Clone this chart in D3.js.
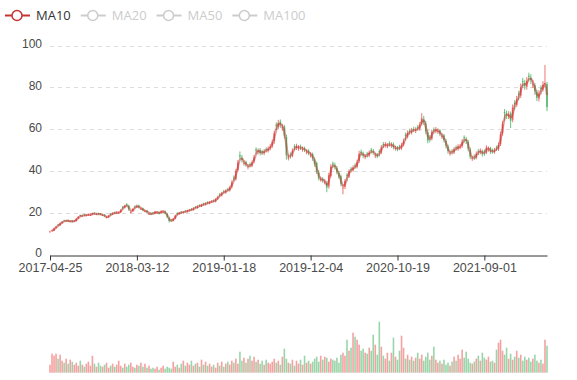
<!DOCTYPE html>
<html><head><meta charset="utf-8">
<script src="https://cdn.jsdelivr.net/npm/d3@7"></script>
<style>html,body{margin:0;padding:0;background:#fff}svg{display:block}</style>
</head><body><svg id="c" width="577" height="380"></svg>
<script>
// Weekly bars (5 trading days each)
const opens=[10.8,11.2,11.4,12.8,14.3,14.0,15.1,16.3,15.9,16.4,15.7,16.2,15.9,16.0,17.3,18.8,18.3,19.1,18.6,19.0,18.8,19.3,19.9,19.1,19.7,19.3,18.7,19.0,17.6,18.0,19.5,19.2,20.1,19.8,19.8,20.3,22.8,22.5,23.9,23.3,20.1,20.8,23.0,22.6,23.4,21.7,22.0,20.6,20.9,19.3,19.7,20.0,19.6,19.9,20.3,19.9,20.3,20.6,19.5,17.6,16.6,16.1,17.2,19.8,19.4,20.4,19.9,20.9,20.5,21.0,21.8,21.4,22.8,22.3,23.6,23.1,24.3,23.9,25.0,24.5,25.2,25.9,25.4,26.7,28.8,28.3,30.2,29.7,31.3,30.7,32.4,36.8,36.0,40.5,47.5,46.2,43.4,44.1,41.6,43.3,42.5,44.6,50.3,49.1,50.1,49.4,48.5,50.5,49.7,51.0,52.0,54.3,62.2,61.0,63.6,60.5,61.2,56.2,46.0,47.9,47.3,51.8,51.0,50.6,51.7,50.2,50.8,48.9,49.6,47.4,48.0,45.5,43.8,39.2,35.7,36.3,34.5,34.2,32.6,37.6,43.6,42.6,41.3,38.9,37.5,31.6,32.4,38.0,37.3,41.0,40.3,42.7,42.0,44.8,49.2,48.1,46.6,48.3,47.5,50.1,49.3,47.1,47.8,49.4,48.8,52.9,52.1,51.8,53.3,52.1,52.7,50.6,51.2,51.6,50.9,52.6,57.3,56.4,59.2,58.4,60.1,59.2,60.9,60.1,62.6,64.6,62.7,58.4,56.3,55.4,59.8,59.0,58.7,59.3,56.3,57.0,54.3,51.6,48.2,49.6,48.9,51.3,50.5,51.3,52.0,56.1,55.1,53.8,50.1,45.7,47.0,46.3,49.6,48.9,49.2,49.4,48.8,50.1,50.8,49.8,49.1,51.2,50.5,52.9,58.0,68.2,67.1,66.0,67.5,64.5,72.6,71.6,77.0,76.0,83.0,82.0,80.2,85.6,84.6,81.0,81.0,77.7,74.6,79.7,78.8,81.6,81.5];
const closes=[11.0,11.6,12.5,13.3,14.1,14.9,15.6,16.1,16.2,15.9,16.0,15.7,16.1,17.0,18.0,18.5,18.6,18.8,18.9,19.1,19.0,19.6,19.5,19.3,19.4,19.2,18.9,18.3,17.8,18.5,19.3,19.7,19.9,20.1,20.0,21.2,22.6,23.2,23.5,21.6,20.3,21.8,22.8,23.2,22.5,21.9,21.2,20.8,20.3,19.5,19.3,19.8,20.4,20.1,19.6,20.7,20.5,19.8,18.0,16.0,16.3,17.0,18.6,19.6,19.9,20.1,20.3,20.6,20.9,21.2,21.5,22.0,22.5,22.9,23.3,23.7,24.0,24.4,24.7,25.0,25.4,25.6,26.4,27.4,28.5,29.3,29.9,30.4,30.9,32.0,34.5,36.3,39.8,44.0,46.8,45.2,43.8,43.0,42.0,42.8,44.0,46.5,49.6,49.6,48.6,48.8,49.4,50.0,50.6,51.6,53.8,58.0,61.5,63.0,62.0,60.8,57.0,47.5,46.5,47.6,49.6,51.3,51.8,51.0,51.2,50.5,50.1,49.2,48.6,47.7,46.0,43.2,39.6,36.5,36.0,35.4,34.8,32.0,38.0,42.0,43.0,41.8,39.4,37.2,33.8,32.0,35.2,37.6,39.8,40.6,41.5,42.2,44.2,48.2,48.6,47.3,46.9,47.8,48.7,49.6,48.8,47.4,47.2,49.0,51.3,52.4,52.6,52.1,52.8,52.4,51.4,50.9,50.6,51.2,52.3,54.2,56.8,58.1,58.7,59.3,59.6,59.7,60.4,62.0,65.2,63.2,59.0,54.5,55.8,58.6,59.3,59.7,59.0,57.8,56.6,54.8,52.0,49.4,48.5,49.2,50.3,50.8,51.7,51.6,54.0,55.6,54.2,50.6,46.8,46.0,46.6,48.2,49.2,49.6,48.0,49.0,51.2,50.4,49.2,49.4,49.9,50.8,52.4,57.5,62.5,67.6,66.4,67.0,64.0,70.2,72.0,74.2,76.4,80.0,82.4,80.6,83.0,85.0,83.4,81.4,78.2,75.0,77.0,79.2,81.2,82.0,70.5];
const highs=[11.4,11.9,12.8,13.6,14.6,15.3,16.0,16.6,16.6,16.7,16.4,16.5,16.5,17.4,18.4,19.1,19.0,19.4,19.3,19.6,19.5,20.1,20.2,19.8,20.0,19.8,19.4,19.3,18.4,18.9,19.8,20.2,20.5,20.6,20.5,21.7,23.2,23.8,24.6,23.8,21.0,22.3,23.5,23.9,23.8,22.5,22.4,21.4,21.3,20.1,20.1,20.4,20.9,20.7,20.6,21.2,21.1,21.0,19.9,18.1,17.0,17.4,19.0,20.2,20.4,20.8,20.8,21.3,21.4,21.8,22.2,22.6,23.2,23.5,24.0,24.3,24.8,25.0,25.5,25.6,26.0,26.4,27.0,28.1,29.4,30.0,30.9,31.2,31.9,32.9,35.5,37.8,40.9,45.2,49.3,47.6,45.0,44.9,43.2,44.0,45.0,47.6,51.3,50.8,50.9,50.0,50.5,51.3,51.7,52.8,55.0,59.3,63.2,64.4,64.6,62.5,62.0,57.4,47.8,48.9,50.8,52.8,53.0,52.3,52.6,51.7,51.6,50.3,50.3,48.9,48.8,46.5,44.5,40.3,37.2,37.0,36.0,35.2,39.1,43.2,44.5,43.9,42.3,39.9,38.2,33.6,36.1,38.9,40.8,41.9,42.6,43.6,45.3,49.6,50.2,49.3,48.1,49.1,49.8,51.0,50.5,48.6,48.6,50.3,52.4,53.8,53.8,53.3,54.2,53.7,53.6,52.1,51.9,52.5,53.4,55.4,58.3,59.4,60.2,60.6,61.2,60.9,62.0,63.3,67.6,66.3,63.9,59.6,57.2,59.8,60.8,61.0,60.4,60.0,58.0,57.7,55.3,52.6,49.8,50.5,51.4,52.2,52.8,52.9,55.2,57.0,56.3,54.8,51.2,47.2,47.9,49.3,50.5,50.8,50.2,50.3,52.3,51.7,51.5,50.7,51.0,52.1,53.6,58.9,64.0,69.6,68.9,68.6,68.4,71.8,73.9,75.9,78.3,81.8,84.5,83.6,84.9,87.0,86.3,83.5,82.0,78.8,78.6,81.0,82.9,90.7,82.6];
const lows=[10.5,10.9,11.2,12.4,13.7,13.7,14.7,15.8,15.6,15.5,15.4,15.3,15.5,15.8,16.9,18.0,18.0,18.4,18.3,18.6,18.5,18.9,19.1,18.8,19.0,18.8,18.4,17.9,17.3,17.5,18.6,18.9,19.4,19.5,19.5,19.9,21.6,22.1,22.9,20.9,19.6,20.3,22.0,22.2,22.0,21.3,20.7,20.2,19.8,18.9,18.8,19.2,19.3,19.5,19.1,19.5,20.0,19.3,17.4,15.3,15.7,15.8,16.8,18.7,19.0,19.6,19.6,20.1,20.1,20.6,21.0,21.0,22.0,21.9,22.8,22.7,23.4,23.4,24.1,24.0,24.7,25.0,24.9,26.1,27.6,27.8,29.2,29.1,30.2,30.1,31.6,35.2,35.4,39.6,45.6,44.0,42.5,42.0,40.8,41.6,41.8,43.6,48.1,47.9,47.4,47.6,47.5,48.8,48.8,49.8,51.0,53.0,59.5,60.0,60.6,59.2,55.5,45.4,45.0,45.8,46.5,49.8,50.0,49.6,50.0,49.2,49.0,47.9,47.5,46.4,44.8,42.0,38.5,35.4,34.8,34.3,33.6,29.8,31.5,36.8,41.4,40.7,38.4,36.2,32.6,28.8,31.3,35.0,36.6,39.3,39.6,41.0,41.2,43.8,47.2,46.1,45.6,46.4,46.6,48.3,47.7,46.1,46.1,46.8,48.0,51.0,51.1,50.8,51.6,51.0,50.3,49.7,49.4,49.9,50.0,51.7,54.6,55.5,57.3,57.4,58.5,58.1,59.2,59.2,61.6,62.0,57.6,53.2,53.6,54.6,57.8,58.0,57.7,56.6,55.3,53.6,50.8,48.2,47.2,47.8,48.0,49.7,49.6,50.3,51.0,53.5,52.9,49.4,45.6,44.8,45.2,45.5,47.6,47.9,46.8,47.2,48.0,49.2,48.1,48.3,48.2,49.5,49.6,51.9,56.9,64.0,64.8,64.8,60.5,63.3,69.4,70.6,73.8,74.9,79.8,78.8,78.9,82.8,81.6,79.6,76.4,73.4,73.2,76.6,77.9,79.8,68.6];
const volumes=[8,19,17,19,14,18,12,10,14,9,13,11,8,10,7,12,8,6,9,11,7,17,9,6,10,7,6,8,10,5,7,9,6,8,12,7,5,9,6,8,10,6,5,8,7,10,6,9,5,7,4,5,4,6,3,5,7,4,6,5,4,11,6,8,5,9,12,7,10,8,12,7,9,10,6,13,8,11,7,9,6,8,5,10,7,11,6,9,11,8,12,10,14,9,21,12,15,10,14,17,12,16,11,13,9,12,8,13,10,9,11,14,10,12,8,16,24,14,10,9,13,7,12,9,13,8,17,10,12,9,11,14,16,11,17,13,16,15,11,14,13,12,15,10,18,20,17,33,22,25,40,36,33,28,22,24,20,19,25,22,38,28,18,51,26,17,14,20,12,20,35,16,13,22,37,25,14,18,13,16,12,15,20,14,18,12,16,20,13,17,26,13,10,12,9,13,8,10,7,11,16,12,18,14,23,15,21,14,10,9,11,14,17,12,20,15,13,16,11,12,10,23,30,33,22,18,25,14,19,13,16,22,15,18,12,16,13,15,11,14,18,12,10,13,9,33,27];
const tickLabels=["2017-04-25","2018-03-12","2019-01-18","2019-12-04","2020-10-19","2021-09-01"];
const tickStep=43;            // weekly bars between labelled dates (215 trading days)
const maWindow=2;             // 10 trading days = 2 weekly bars
const yTicks=[0,20,40,60,80,100];
const legendNames=["MA10","MA20","MA50","MA100"];
const legendActive=[true,false,false,false];

const font='"Open Sans", "Liberation Sans", sans-serif';
const axisFont='"Liberation Sans", Arial, sans-serif';
const upColor='#eb5454', downColor='#47b262', maColor='#c23531';
const svg=d3.select('#c');
const n=Math.min(opens.length,closes.length,highs.length,lows.length);
const x=d3.scaleLinear().domain([0,n-1]).range([50,547]);
const y=d3.scaleLinear().domain([0,100]).range([254.5,45.5]);
const yv=d3.scaleLinear().domain([0,60]).range([372.7,312.7]);
const isUp=i=>closes[i]>=opens[i];

// grid lines
svg.append('g').selectAll('line').data(yTicks.filter(d=>d>0)).join('line')
  .attr('x1',50).attr('x2',547).attr('y1',d=>Math.round(y(d))+0.5).attr('y2',d=>Math.round(y(d))+0.5)
  .attr('stroke','#dcdcdc').attr('stroke-dasharray','4,4');
// y labels
svg.append('g').selectAll('text').data(yTicks).join('text')
  .attr('x',42).attr('y',d=>y(d)+2.8).attr('text-anchor','end')
  .attr('fill','#4a4a4a').style('font',`12px ${axisFont}`).text(d=>d);

// x axis
const xAxis=d3.axisBottom(x).tickValues(tickLabels.map((d,i)=>i*tickStep))
  .tickFormat((d,i)=>tickLabels[i]).tickSize(5).tickSizeOuter(0);
const gx=svg.append('g').attr('transform',`translate(0,${Math.round(y(0))+0.5})`).call(xAxis);
gx.select('.domain').attr('stroke','#333');
gx.selectAll('.tick line').attr('stroke','#333');
gx.selectAll('.tick text').attr('fill','#4a4a4a').style('font',`12.5px ${axisFont}`).attr('y',8);

const idx=d3.range(n);
// volume bars
svg.append('g').selectAll('rect').data(idx.filter(i=>i<volumes.length)).join('rect')
  .attr('x',i=>x(i)-0.8).attr('width',1.6)
  .attr('y',i=>yv(volumes[i])).attr('height',i=>yv(0)-yv(volumes[i]))
  .attr('fill',i=>isUp(i)?upColor:downColor).attr('fill-opacity',0.55);

// candles
const cg=svg.append('g');
cg.selectAll('line').data(idx).join('line')
  .attr('x1',i=>x(i)).attr('x2',i=>x(i)).attr('y1',i=>y(highs[i])).attr('y2',i=>y(lows[i]))
  .attr('stroke',i=>isUp(i)?upColor:downColor).attr('stroke-width',1).attr('stroke-opacity',0.8);
cg.selectAll('rect').data(idx).join('rect')
  .attr('x',i=>x(i)-0.85).attr('width',1.7)
  .attr('y',i=>y(Math.max(opens[i],closes[i])))
  .attr('height',i=>Math.max(0.8,Math.abs(y(opens[i])-y(closes[i]))))
  .attr('fill',i=>isUp(i)?upColor:downColor).attr('fill-opacity',0.8);

// MA10 line
const ma=idx.filter(i=>i>=maWindow-1).map(i=>[i,d3.mean(closes.slice(i-maWindow+1,i+1))]);
svg.append('path').datum(ma)
  .attr('d',d3.line().x(d=>x(d[0])).y(d=>y(d[1])).curve(d3.curveMonotoneX))
  .attr('fill','none').attr('stroke',maColor).attr('stroke-width',2.2).attr('stroke-opacity',0.5);

// legend
const lg=svg.append('g');
let lx=5;
legendNames.forEach((name,k)=>{
  const col=legendActive[k]?maColor:'#ccc';
  lg.append('line').attr('x1',lx).attr('x2',lx+25).attr('y1',15.5).attr('y2',15.5)
    .attr('stroke',col).attr('stroke-width',2);
  lg.append('circle').attr('cx',lx+12).attr('cy',15.5).attr('r',5)
    .attr('fill','#fff').attr('stroke',col).attr('stroke-width',1.5);
  const t=lg.append('text').attr('x',lx+31).attr('y',20)
    .attr('fill',legendActive[k]?'#333':'#ccc').style('font',`13px ${font}`).text(name);
  lx+=31+t.node().getComputedTextLength()+10;
});
</script></body></html>
